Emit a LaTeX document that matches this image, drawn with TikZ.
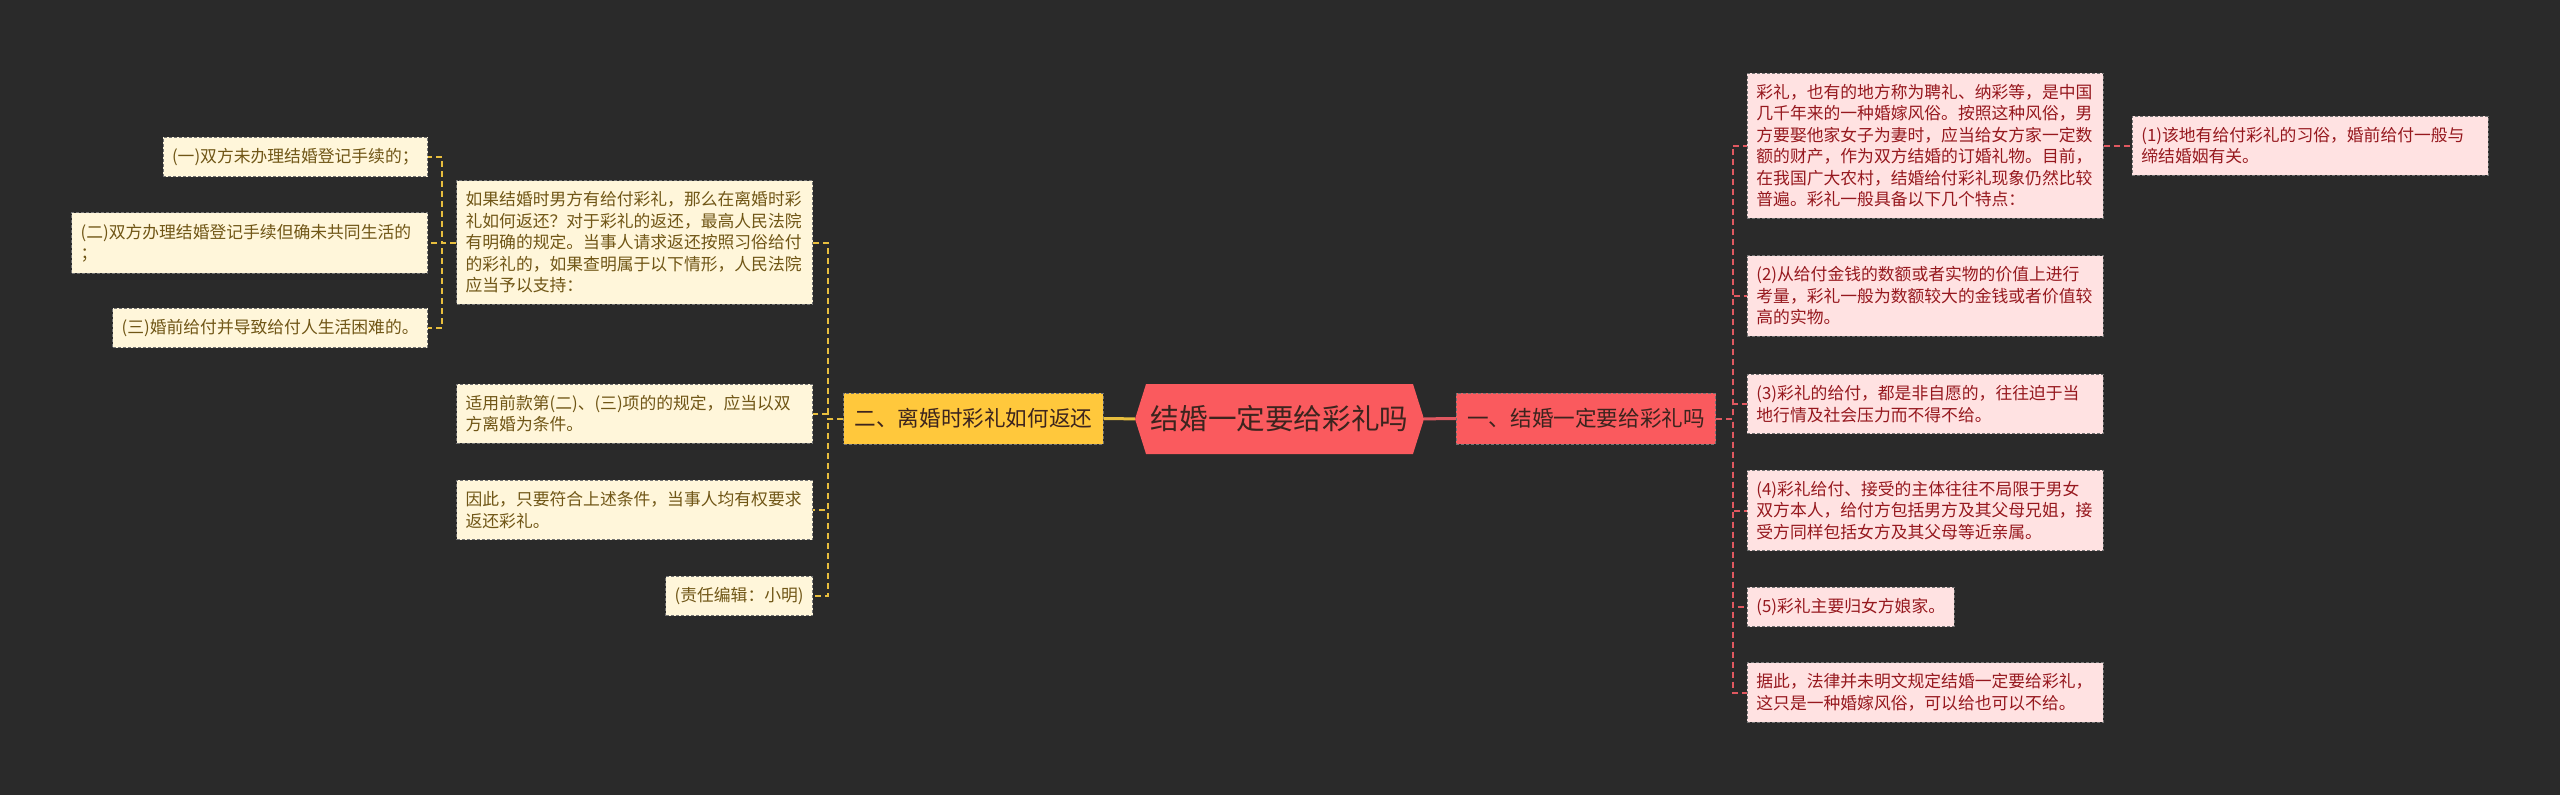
\documentclass[tikz,border=0pt]{standalone}
\usepackage{fontspec}
\newfontfamily\cjk{Noto Sans CJK SC}
\usepackage{tikz}
\usetikzlibrary{shapes,positioning}
\definecolor{bgDark}{RGB}{42,42,42}
\definecolor{creamFill}{RGB}{255,246,218}
\definecolor{creamText}{RGB}{112,86,22}
\definecolor{goldFill}{RGB}{255,200,60}
\definecolor{goldLine}{RGB}{232,190,62}
\definecolor{hubRed}{RGB}{250,90,94}
\definecolor{pinkFill}{RGB}{255,226,226}
\definecolor{wineText}{RGB}{150,24,30}
\definecolor{redLine}{RGB}{224,88,96}
\definecolor{darkInk}{RGB}{60,36,30}

\begin{document}
\begin{tikzpicture}[x=1pt, y=-1pt,
      every node/.style={font=\cjk},
      txt/.style={font=\cjk\fontsize{16.8}{21.5}\selectfont, align=left,
        inner xsep=9pt, inner ysep=11pt, draw=black!55,
        dash pattern=on 3pt off 2pt, line width=0.8pt},
      wide/.style={text width=338pt},
      yleaf/.style={txt, fill=creamFill, text=creamText},
      rleaf/.style={txt, fill=pinkFill, text=wineText},
      branch/.style={font=\cjk\fontsize{21.6}{26}\selectfont, inner xsep=11pt,
        minimum height=51pt, draw=black!55, dash pattern=on 3pt off 2pt,
        line width=0.8pt, text=darkInk},
      hub/.style={signal, signal to=east and west, signal pointer angle=145,
        minimum width=289pt, minimum height=70pt, inner xsep=4pt,
        fill=hubRed, text=darkInk, font=\cjk\fontsize{28.6}{34}\selectfont},
      ylink/.style={goldLine, line width=2pt, dash pattern=on 6pt off 4pt},
      rlink/.style={redLine, line width=2pt, dash pattern=on 6pt off 4pt}
    ]
      \useasboundingbox (0,0) rectangle (2560,795);
      \fill[bgDark] (0,0) rectangle (2560,795);

      % Centre and first level
      \node[hub] (root) at (1279.5,419) {结婚一定要给彩礼吗};
      \node[branch, fill=goldFill] (er) at (973.5,418.5) {二、离婚时彩礼如何返还};
      \node[branch, fill=hubRed] (yi) at (1586,418.5) {一、结婚一定要给彩礼吗};
      \draw[goldLine, line width=3pt] (er) -- (root);
      \draw[redLine, line width=3pt] (root) -- (yi);

      % Left branch
      \node[yleaf, wide, anchor=east] (p1) at (813,242.5)
        {如果结婚时男方有给付彩礼，那么在离婚时彩\\礼如何返还？对于彩礼的返还，最高人民法院\\有明确的规定。当事人请求返还按照习俗给付\\的彩礼的，如果查明属于以下情形，人民法院\\应当予以支持：};
      \node[yleaf, wide, anchor=east] (p2) at (813,413.5)
        {适用前款第(二)、(三)项的的规定，应当以双\\方离婚为条件。};
      \node[yleaf, wide, anchor=east] (p3) at (813,510)
        {因此，只要符合上述条件，当事人均有权要求\\返还彩礼。};
      \node[yleaf, anchor=east] (p4) at (813,596) {(责任编辑：小明)};

      \node[yleaf, anchor=east] (a1) at (428,157) {(一)双方未办理结婚登记手续的；};
      \node[yleaf, wide, anchor=east] (a2) at (428,243)
        {(二)双方办理结婚登记手续但确未共同生活的\\；};
      \node[yleaf, anchor=east] (a3) at (428,328) {(三)婚前给付并导致给付人生活困难的。};

      \coordinate (lspine) at (828,418.5);
      \draw[ylink] (er.west) -- (lspine) |- (p1.east);
      \draw[ylink] (er.west) -- (lspine) |- (p2.east);
      \draw[ylink] (er.west) -- (lspine) |- (p3.east);
      \draw[ylink] (er.west) -- (lspine) |- (p4.east);

      \coordinate (aspine) at (442,242.5);
      \draw[ylink] (p1.west) -- (aspine) |- (a1.east);
      \draw[ylink] (p1.west) -- (aspine) |- (a2.east);
      \draw[ylink] (p1.west) -- (aspine) |- (a3.east);

      % Right branch
      \node[rleaf, wide, anchor=west] (q0) at (1747,145.5)
        {彩礼，也有的地方称为聘礼、纳彩等，是中国\\几千年来的一种婚嫁风俗。按照这种风俗，男\\方要娶他家女子为妻时，应当给女方家一定数\\额的财产，作为双方结婚的订婚礼物。目前，\\在我国广大农村，结婚给付彩礼现象仍然比较\\普遍。彩礼一般具备以下几个特点：};
      \node[rleaf, wide, anchor=west] (q1) at (2132,145.5)
        {(1)该地有给付彩礼的习俗，婚前给付一般与\\缔结婚姻有关。};
      \node[rleaf, wide, anchor=west] (q2) at (1747,296)
        {(2)从给付金钱的数额或者实物的价值上进行\\考量，彩礼一般为数额较大的金钱或者价值较\\高的实物。};
      \node[rleaf, wide, anchor=west] (q3) at (1747,404)
        {(3)彩礼的给付，都是非自愿的，往往迫于当\\地行情及社会压力而不得不给。};
      \node[rleaf, wide, anchor=west] (q4) at (1747,510.5)
        {(4)彩礼给付、接受的主体往往不局限于男女\\双方本人，给付方包括男方及其父母兄姐，接\\受方同样包括女方及其父母等近亲属。};
      \node[rleaf, anchor=west] (q5) at (1747,607) {(5)彩礼主要归女方娘家。};
      \node[rleaf, wide, anchor=west] (q6) at (1747,692.5)
        {据此，法律并未明文规定结婚一定要给彩礼，\\这只是一种婚嫁风俗，可以给也可以不给。};

      \coordinate (rspine) at (1733,418.5);
      \draw[rlink] (yi.east) -- (rspine) |- (q0.west);
      \draw[rlink] (yi.east) -- (rspine) |- (q2.west);
      \draw[rlink] (yi.east) -- (rspine) |- (q3.west);
      \draw[rlink] (yi.east) -- (rspine) |- (q4.west);
      \draw[rlink] (yi.east) -- (rspine) |- (q5.west);
      \draw[rlink] (yi.east) -- (rspine) |- (q6.west);
      \draw[rlink] (q0.east) -- (q1.west);
    \end{tikzpicture}
\end{document}
